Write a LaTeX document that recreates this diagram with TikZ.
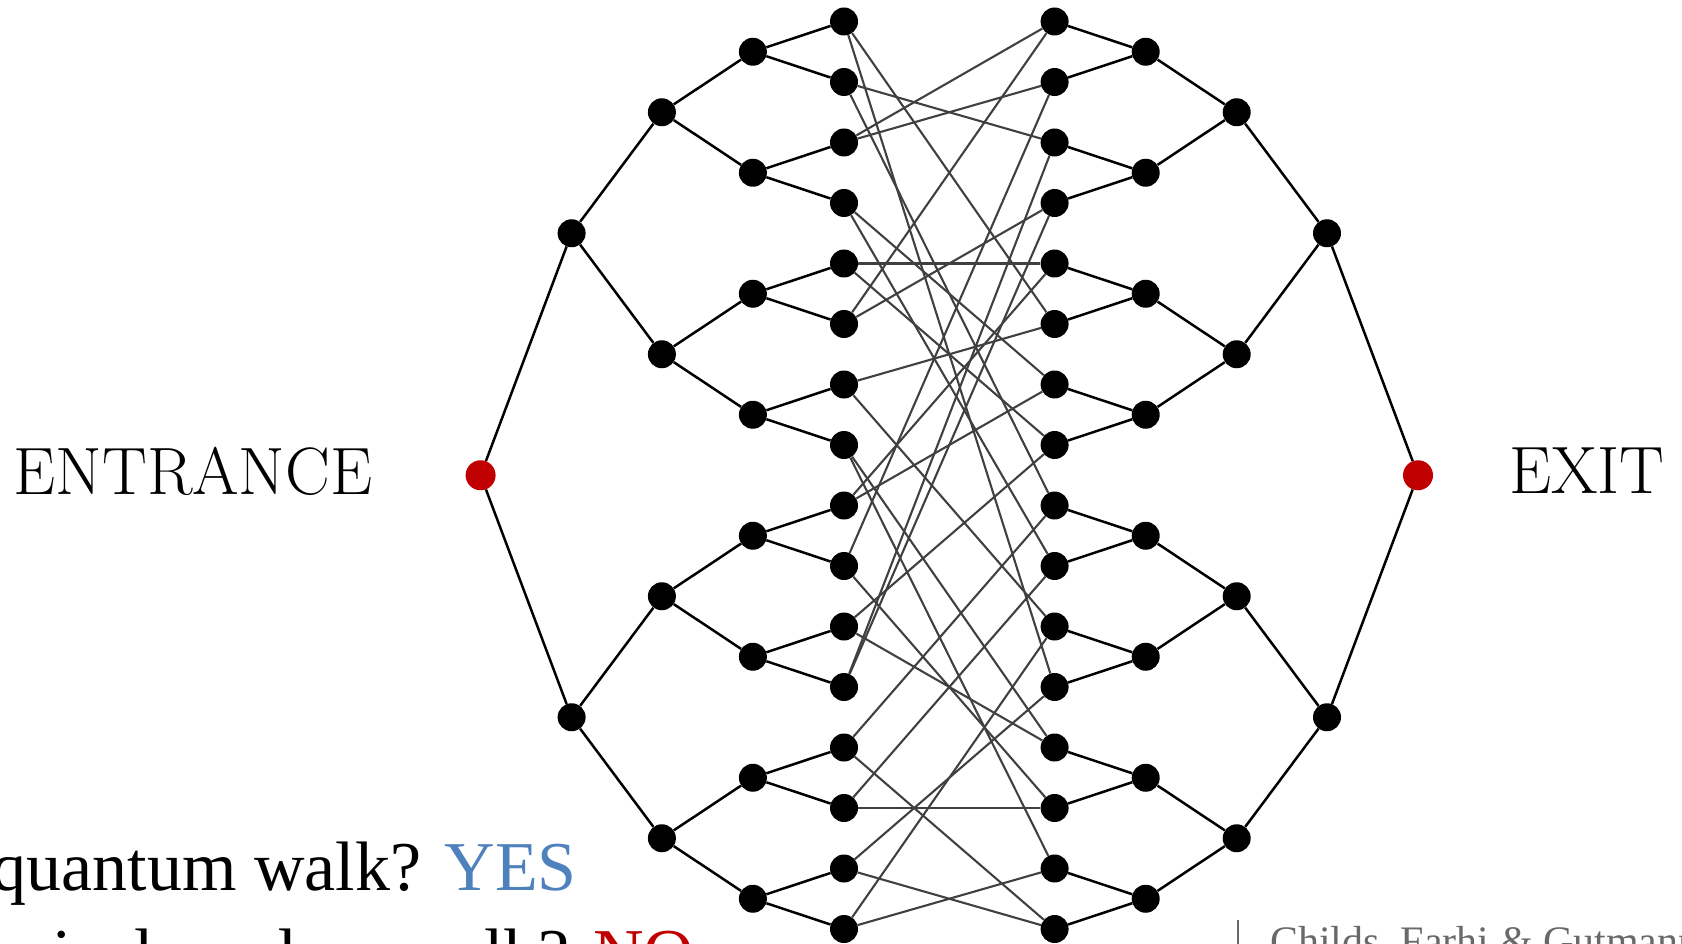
\documentclass[tikz,border=0pt]{standalone}
\usepackage{fontspec}
\newfontfamily\slidefont{Liberation Serif}
\usepackage{xcolor}
\usepackage{tikz}
\usetikzlibrary{positioning}

\definecolor{entryred}{RGB}{192,0,0}
\definecolor{yesblue}{RGB}{79,129,189}
\definecolor{gluegray}{RGB}{64,64,64}
\definecolor{creditgray}{RGB}{105,105,105}

\begin{document}
\begin{tikzpicture}[
    x=1pt, y=-1pt,
    dot/.style={circle, fill=black, inner sep=0pt, minimum size=28pt},
    rootdot/.style={circle, fill=entryred, inner sep=0pt, minimum size=30pt},
    tree/.style={line width=2.5pt, black},
    glue/.style={line width=2.1pt, gluegray},
    sidetext/.style={font=\fontsize{67}{75}\selectfont, inner sep=0pt},
    slidetext/.style={font=\slidefont\fontsize{70}{84}\selectfont, inner sep=0pt}
]
  \useasboundingbox (0,0) rectangle (1682,944);

  % the two roots
  \node[rootdot] (L0-1) at (480.6,475.25) {};
  \node[rootdot] (R0-1) at (1418,475.25) {};

  % both binary trees, level by level
  \foreach \k/\dx in {1/377.7,2/287.4,3/196.4,4/105.3}{
    \pgfmathtruncatemacro\cnt{2^\k}
    \pgfmathtruncatemacro\km{\k-1}
    \foreach \j in {1,...,\cnt}{
      \pgfmathsetmacro\yy{21.5+60.5*((\j-0.5)*2^(4-\k)-0.5)}
      \pgfmathtruncatemacro\up{(\j+1)/2}
      \node[dot] (L\k-\j) at (949.3-\dx,\yy) {};
      \node[dot] (R\k-\j) at (949.3+\dx,\yy) {};
      \draw[tree] (L\km-\up) -- (L\k-\j);
      \draw[tree] (R\km-\up) -- (R\k-\j);
    }
  }

  % random cycle gluing the leaves
  \foreach \a/\b in {1/6,1/12,2/3,2/9,3/1,3/2,4/7,4/10,5/5,5/8,6/1,6/4,
                     7/6,7/11,8/13,8/15,9/5,9/7,10/2,10/14,11/8,11/13,
                     12/3,12/4,13/9,13/16,14/10,14/14,15/12,15/16,16/11,16/15}
    \draw[glue] (L4-\a) -- (R4-\b);

  \node[sidetext] (entrance) at (193,471) {ENTRANCE};
  \node[sidetext] (exit) at (1587,471) {EXIT};

  \node[slidetext, anchor=base east] (walkyes) at (577,890)
    {quantum walk? \textcolor{yesblue}{YES}};
  \node[slidetext, anchor=base west] (walkno) at (593,977)
    {\llap{classical random walk? }\textcolor{entryred}{NO}};

  \coordinate (bartop) at (1238,920);
  \coordinate (barbot) at (1238,960);
  \draw[creditgray, line width=1.5pt] (bartop) -- (barbot);
  \node[font=\slidefont\fontsize{42}{50}\selectfont, text=creditgray,
        anchor=base west, inner sep=0pt] (credit) at (1270,955)
    {Childs, Farhi \& Gutmann};
\end{tikzpicture}
\end{document}
